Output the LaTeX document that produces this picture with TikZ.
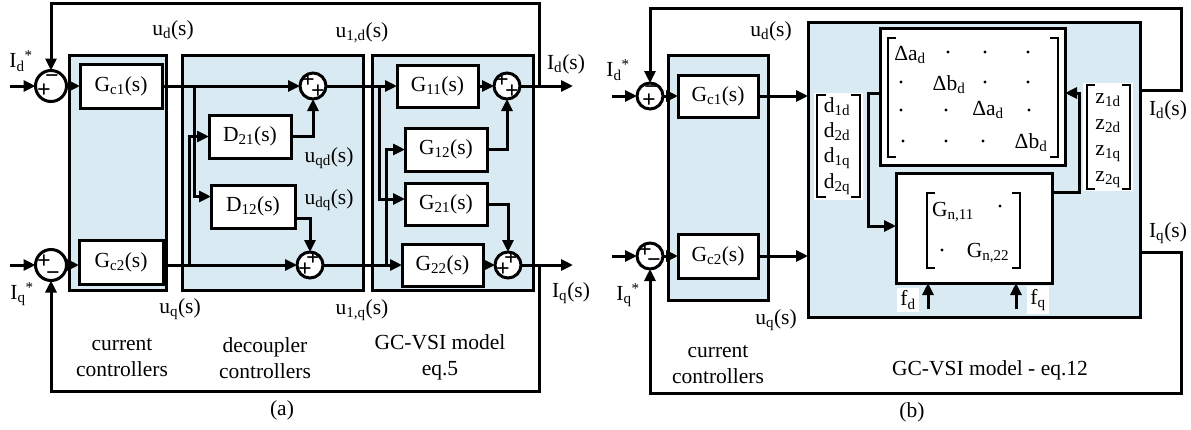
\documentclass[tikz,border=0pt]{standalone}
\usepackage{fontspec}
\setmainfont{Liberation Serif}
\usetikzlibrary{arrows.meta,calc}
\definecolor{pblue}{RGB}{218,234,242}
\begin{document}
\begin{tikzpicture}[x=1pt,y=-1pt,
  every node/.style={font=\fontsize{21.5}{26}\selectfont, inner sep=0pt, outer sep=0pt},
  brk/.style={line width=2.4pt},
  arr/.style={line width=3pt, -{Triangle[length=12pt,width=11pt]}},
  blk/.style={draw, line width=3pt, fill=white},
  panel/.style={draw, line width=3pt, fill=pblue},
  sumA/.style={draw, circle, line width=3pt, fill=white, minimum size=31pt},
  sumB/.style={draw, circle, line width=3pt, fill=white, minimum size=26pt},
  sgn/.style={font=\fontsize{24}{24}\selectfont\bfseries},
  wbg/.style={fill=white, inner sep=3pt}
]
\useasboundingbox (0,0) rectangle (1191,429);

% ================= (a) =================
\node[panel, minimum width=97pt, minimum height=235pt] (ccA) at (117.5,172.5) {};
\node[panel, minimum width=181pt, minimum height=235pt] (dcA) at (272.5,172.5) {};
\node[panel, minimum width=161pt, minimum height=235pt] (mdA) at (452.5,172.5) {};

\node[sumA] (sAd) at (51,86) {};
\node[sumA] (sAq) at (51,265) {};
\node[sumB] (s1d) at (313,86) {};
\node[sumB] (s1q) at (310,265) {};
\node[sumB] (s2d) at (507,86) {};
\node[sumB] (s2q) at (508,265) {};

\node[blk, minimum width=82pt, minimum height=44pt] (gc1A) at (121,86) {G\textsubscript{c1}(s)};
\node[blk, minimum width=84pt, minimum height=44pt] (gc2A) at (121,262) {G\textsubscript{c2}(s)};
\node[blk, minimum width=82pt, minimum height=43pt] (d21) at (250,136.5) {D\textsubscript{21}(s)};
\node[blk, minimum width=84pt, minimum height=43pt] (d12) at (253,206.5) {D\textsubscript{12}(s)};
\node[blk, minimum width=81pt, minimum height=42pt] (g11) at (437.5,86) {G\textsubscript{11}(s)};
\node[blk, minimum width=82pt, minimum height=43pt] (g12) at (446,149.5) {G\textsubscript{12}(s)};
\node[blk, minimum width=82pt, minimum height=42pt] (g21) at (446,204) {G\textsubscript{21}(s)};
\node[blk, minimum width=81pt, minimum height=42pt] (g22) at (442.5,265) {G\textsubscript{22}(s)};

\coordinate (inAd) at (10,86);
\coordinate (inAq) at (10,265);
\coordinate (bA1) at (194,86);
\coordinate (bA2) at (189,265);
\coordinate (bA3) at (379,86);
\coordinate (bA4) at (386,265);
\coordinate (outAd) at (573,86);
\coordinate (outAq) at (573,265);
\coordinate (fbAd) at (539,86);
\coordinate (fbAq) at (539,265);

\draw[arr] (inAd) -- (sAd.west);
\draw[arr] (inAq) -- (sAq.west);
\draw[arr] (sAd.east) -- (gc1A.west);
\draw[arr] (sAq.east) -- (sAq.east -| gc2A.west);
\draw[arr] (gc1A.east) -- (s1d.west);
\draw[arr] (gc2A.east |- s1q.west) -- (s1q.west);
\draw[arr] (bA1) |- ([yshift=10pt]d12.west);
\draw[arr] (bA2) |- (d21.west);
\draw[arr] (d21.east) -| (s1d.south);
\draw[arr] ([yshift=-12pt]d12.east) -| (s1q.north);
\draw[arr] (s1d.east) -- (g11.west);
\draw[arr] (s1q.east) -- (g22.west);
\draw[arr] (bA3) |- ([yshift=5pt]g21.west);
\draw[arr] (bA4) |- (g12.west);
\draw[arr] (g11.east) -- (s2d.west);
\draw[arr] (g12.east) -| (s2d.south);
\draw[arr] (g21.east) -| (s2q.north);
\draw[arr] (g22.east) -- (s2q.west);
\draw[arr] (s2d.east) -- (outAd);
\draw[arr] (s2q.east) -- (outAq);
\draw[arr] (fbAd) -- (539,3) -| (sAd.north);
\draw[arr] (fbAq) -- (539,391) -| (sAq.south);

\node[sgn] (pAd1) at ($(sAd)+(1,-7)$) {−};
\node[sgn] (pAd2) at ($(sAd)+(-7,5)$) {+};
\node[sgn] (pAq1) at ($(sAq)+(-7,-3)$) {+};
\node[sgn] (pAq2) at ($(sAq)+(2,11)$) {−};
\node[sgn] (p1d1) at ($(s1d)+(-5,-5)$) {+};
\node[sgn] (p1d2) at ($(s1d)+(5,6)$) {+};
\node[sgn] (p1q1) at ($(s1q)+(3,-6)$) {+};
\node[sgn] (p1q2) at ($(s1q)+(-5,5)$) {+};
\node[sgn] (p2d1) at ($(s2d)+(-5,-5)$) {+};
\node[sgn] (p2d2) at ($(s2d)+(5,6)$) {+};
\node[sgn] (p2q1) at ($(s2q)+(3,-6)$) {+};
\node[sgn] (p2q2) at ($(s2q)+(-5,5)$) {+};

\node (lIdsA) at (21,61) {I\textsubscript{d}\textsuperscript{*}};
\node (lIqsA) at (22,294) {I\textsubscript{q}\textsuperscript{*}};
\node (ludA) at (173,30) {u\textsubscript{d}(s)};
\node (lu1dA) at (362,33) {u\textsubscript{1,d}(s)};
\node (luqdA) at (329,158) {u\textsubscript{qd}(s)};
\node (ludqA) at (329,200) {u\textsubscript{dq}(s)};
\node (luqA) at (180,309) {u\textsubscript{q}(s)};
\node (lu1qA) at (362,310) {u\textsubscript{1,q}(s)};
\node[align=center] (lccA) at (122,358) {current\\controllers};
\node[align=center] (ldcA) at (265,358) {decoupler\\controllers};
\node[align=center] (lmdA) at (440,357) {GC-VSI model\\eq.5};
\node (lIdA) at (566,64) {I\textsubscript{d}(s)};
\node (lIqA) at (571,293) {I\textsubscript{q}(s)};
\node (capA) at (282,410) {(a)};

% ================= (b) =================
\node[panel, minimum width=100pt, minimum height=245pt] (ccB) at (718,177.5) {};
\node[panel, minimum width=332pt, minimum height=295pt] (mdB) at (974,169.5) {};

\node[sumB] (sBd) at (650,96) {};
\node[sumB] (sBq) at (650,256) {};

\node[blk, minimum width=80pt, minimum height=42pt] (gc1B) at (718,96) {G\textsubscript{c1}(s)};
\node[blk, minimum width=80pt, minimum height=44pt] (gc2B) at (718,256) {G\textsubscript{c2}(s)};

\node[blk, minimum width=185pt, minimum height=137pt] (delta) at (972.5,96.5) {};
\node[blk, minimum width=156pt, minimum height=110pt] (gn) at (974,228) {};

% delta matrix
\draw[brk] (896,38) -- (888,38) -- (888,157) -- (896,157);
\draw[brk] (1050,38) -- (1058,38) -- (1058,157) -- (1050,157);
\node[anchor=base] (m11) at (910,60) {Δa\textsubscript{d}};
\node[anchor=base] (m22) at (949,90) {Δb\textsubscript{d}};
\node[anchor=base] (m33) at (988,115) {Δa\textsubscript{d}};
\node[anchor=base] (m44) at (1031,148) {Δb\textsubscript{d}};
\foreach \p in {(948,52),(985,52),(1028,52),(901,82),(985,82),(1028,82),(901,110),(946,110),(1029,110),(903,141),(946,141),(983,141)}
  \fill \p circle (1.7pt);

% Gn matrix
\draw[brk] (935,193) -- (927,193) -- (927,268) -- (935,268);
\draw[brk] (1012,193) -- (1020,193) -- (1020,268) -- (1012,268);
\node (n11) at (953,212) {G\textsubscript{n,11}};
\node (n22) at (988,253) {G\textsubscript{n,22}};
\fill (1000,206) circle (1.7pt);
\fill (942,250) circle (1.7pt);

% d vector
\fill[white] (814,93) rectangle (863,200);
\draw[brk] (826,95) -- (817,95) -- (817,197) -- (826,197);
\draw[brk] (851,95) -- (860,95) -- (860,197) -- (851,197);
\node[anchor=base] (dv1) at (837,112) {d\textsubscript{1d}};
\node[anchor=base] (dv2) at (837,137) {d\textsubscript{2d}};
\node[anchor=base] (dv3) at (837,162) {d\textsubscript{1q}};
\node[anchor=base] (dv4) at (837,188) {d\textsubscript{2q}};

% z vector
\fill[white] (1083,83) rectangle (1133,191);
\draw[brk] (1095,85) -- (1087,85) -- (1087,189) -- (1095,189);
\draw[brk] (1122,85) -- (1130,85) -- (1130,189) -- (1122,189);
\node[anchor=base] (zv1) at (1108,103) {z\textsubscript{1d}};
\node[anchor=base] (zv2) at (1108,129) {z\textsubscript{2d}};
\node[anchor=base] (zv3) at (1108,155) {z\textsubscript{1q}};
\node[anchor=base] (zv4) at (1108,181) {z\textsubscript{2q}};

\coordinate (inBd) at (612,96);
\coordinate (inBq) at (612,256);
\coordinate (fdB) at (928,309);
\coordinate (fqB) at (1016,309);
\coordinate (oBd) at (1181,90);
\coordinate (oBq) at (1181,252);

\draw[arr] (inBd) -- (sBd.west);
\draw[arr] (inBq) -- (sBq.west);
\draw[arr] (sBd.east) -- (gc1B.west);
\draw[arr] (sBq.east) -- (gc2B.west);
\draw[arr] (gc1B.east) -- (gc1B.east -| mdB.west);
\draw[arr] (gc2B.east) -- (gc2B.east -| mdB.west);
\draw[arr] ([yshift=3.5pt]delta.west) -- ++(-12,0) |- ([yshift=2pt]gn.west);
\draw[arr] ([yshift=36pt]gn.east) -- ++(27,0) |- ([yshift=3.5pt]delta.east);
\draw[arr] (fdB) -- (fdB |- gn.south);
\draw[arr] (fqB) -- (fqB |- gn.south);
\draw[arr] (mdB.east |- oBd) -- (oBd) -- (1181,8) -| (sBd.north);
\draw[arr] (mdB.east |- oBq) -- (oBq) -- (1181,393) -| (sBq.south);

\node[sgn] (pBd1) at ($(sBd)+(1,-6)$) {−};
\node[sgn] (pBd2) at ($(sBd)+(-1,5)$) {+};
\node[sgn] (pBq1) at ($(sBq)+(-5,-5)$) {+};
\node[sgn] (pBq2) at ($(sBq)+(4,7)$) {−};

\node[wbg] (lfd) at (908,300) {f\textsubscript{d}};
\node[wbg] (lfq) at (1038,300) {f\textsubscript{q}};
\node (lIdsB) at (618,70) {I\textsubscript{d}\textsuperscript{*}};
\node (lIqsB) at (628,295) {I\textsubscript{q}\textsuperscript{*}};
\node (ludB) at (771,31) {u\textsubscript{d}(s)};
\node (luqB) at (776,320) {u\textsubscript{q}(s)};
\node[align=center] (lccB) at (718,365) {current\\controllers};
\node (lmdB) at (990,370) {GC-VSI model - eq.12};
\node (lIdB) at (1168,110) {I\textsubscript{d}(s)};
\node (lIqB) at (1168,233) {I\textsubscript{q}(s)};
\node (capB) at (912,412) {(b)};
\end{tikzpicture}
\end{document}
